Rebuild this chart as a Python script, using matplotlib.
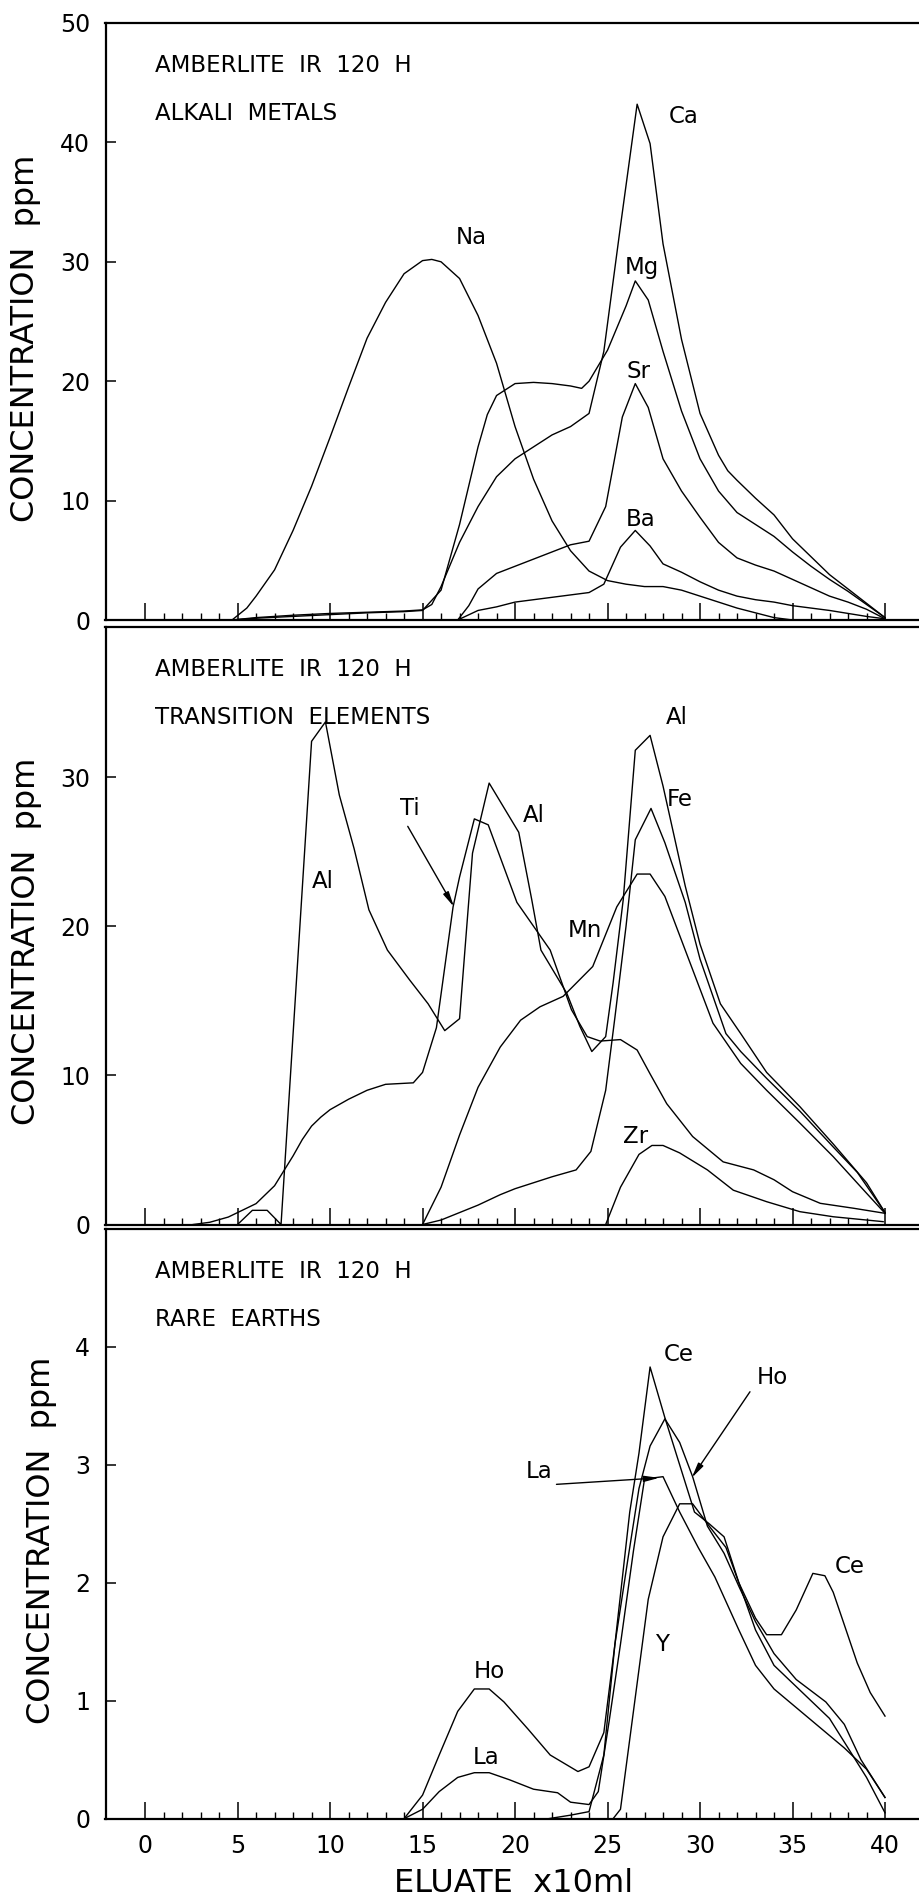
import numpy as np
import matplotlib
matplotlib.use("Agg")
import matplotlib.pyplot as plt

### 1. Data -------------------------------------------------------------------------------###

# Alkali metals (top panel)
na_x = [4.7, 5.5, 6, 7, 8, 9, 10, 11, 12, 13, 14, 15, 15.5, 16, 17, 18, 19, 20, 21, 22, 23, 24,
        25, 26, 27, 28, 29, 30, 31, 32, 33, 34, 35, 40]
na_y = [0, 1.0, 2.0, 4.2, 7.5, 11.2, 15.3, 19.5, 23.6, 26.6, 29.0, 30.1, 30.2, 30.0, 28.6, 25.5,
        21.5, 16.2, 11.8, 8.3, 5.8, 4.1, 3.3, 3.0, 2.8, 2.8, 2.5, 2.0, 1.5, 1.0, 0.6, 0.2, 0, 0]

mg_x = [4.7, 6, 8, 10, 12, 14, 15, 16, 17, 18, 18.5, 19, 20, 21, 22, 23, 23.6, 24, 25, 26, 26.5,
        27.2, 28, 29, 30, 31, 32, 33, 34, 35, 36, 37, 38, 39, 40]
mg_y = [0, 0.15, 0.3, 0.45, 0.6, 0.7, 0.8, 2.5, 8.0, 14.5, 17.2, 18.8, 19.8, 19.9, 19.8, 19.6,
        19.4, 20.0, 22.6, 26.3, 28.4, 26.8, 22.5, 17.5, 13.5, 10.8, 9.0, 8.0, 7.0, 5.7, 4.5, 3.4,
        2.4, 1.3, 0.2]

ca_x = [4.7, 6, 8, 10, 12, 14, 15, 15.5, 16, 17, 18, 19, 20, 21, 22, 23, 24, 24.8, 25.7, 26.6,
        27.3, 28, 29, 30, 31, 31.5, 32, 33, 34, 35, 36, 37, 38, 39, 40]
ca_y = [0, 0.2, 0.4, 0.55, 0.65, 0.75, 0.85, 1.3, 2.8, 6.5, 9.5, 12.0, 13.5, 14.5, 15.5, 16.2,
        17.3, 22.5, 33.0, 43.2, 39.9, 31.5, 23.5, 17.3, 13.8, 12.5, 11.7, 10.2, 8.8, 6.8, 5.3,
        3.8, 2.6, 1.4, 0.2]

sr_x = [16.9, 17.5, 18, 19, 20, 21, 22, 23, 24, 24.9, 25.8, 26.5, 27.2, 28, 29, 30, 31, 32, 33,
        34, 35, 36, 37, 38, 39, 40]
sr_y = [0, 1.2, 2.6, 3.9, 4.5, 5.1, 5.7, 6.3, 6.6, 9.5, 17.0, 19.8, 17.8, 13.5, 10.8, 8.6, 6.5,
        5.2, 4.6, 4.1, 3.4, 2.7, 2.0, 1.5, 0.9, 0.1]

ba_x = [16.9, 18, 19, 20, 21, 22, 23, 24, 24.8, 25.7, 26.5, 27.3, 28, 29, 30, 31, 32, 33, 34, 35,
        36, 37, 38, 39, 40]
ba_y = [0, 0.8, 1.1, 1.5, 1.7, 1.9, 2.1, 2.3, 3.0, 6.1, 7.5, 6.2, 4.7, 4.0, 3.2, 2.5, 2.0, 1.7,
        1.5, 1.2, 1.0, 0.8, 0.55, 0.3, 0.1]

# Transition elements (middle panel)
al_x = [5.0, 5.8, 6.6, 7.35, 9.0, 9.75, 10.5, 11.3, 12.1, 13.1, 14.3, 15.3, 16.2, 17.0, 17.7,
        18.6, 20.2, 20.9, 21.4, 22.8, 23.5, 24.15, 24.9, 25.3, 25.85, 26.5, 27.3, 28.0, 29.2,
        30.0, 31.1, 32.2, 33.6, 35.4, 37.2, 39.0, 40.0]
al_y = [0, 0.95, 0.95, 0, 32.4, 33.7, 28.8, 25.2, 21.1, 18.4, 16.4, 14.8, 13.0, 13.8, 24.9, 29.6,
        26.3, 21.8, 18.4, 15.5, 13.3, 11.6, 12.6, 16.2, 21.8, 31.8, 32.8, 29.4, 22.7, 18.8, 14.8,
        12.8, 10.2, 7.9, 5.4, 2.8, 0.8]

ti_x = [2.6, 3.5, 4.5, 5.0, 6.0, 7.0, 8.0, 8.5, 9.0, 9.5, 10, 11, 12, 13, 14.5, 15.0, 15.75,
        16.65, 17.0, 17.8, 18.55, 20.1, 21.9, 23.05, 23.9, 24.6, 25.7, 26.6, 27.3, 28.2, 29.6,
        31.25, 32.9, 34.0, 35.0, 36.5, 38.3, 40.0]
ti_y = [0, 0.15, 0.5, 0.8, 1.4, 2.6, 4.6, 5.7, 6.6, 7.2, 7.7, 8.4, 9.0, 9.4, 9.5, 10.2, 13.2, 21.3,
        23.3, 27.2, 26.8, 21.6, 18.4, 14.4, 12.6, 12.3, 12.4, 11.7, 10.1, 8.1, 5.9, 4.2, 3.66, 3.0,
        2.2, 1.42, 1.09, 0.75]

mn_x = [15.0, 16, 17, 18, 19.2, 20.3, 21.35, 22.6, 24.2, 25.5, 26.6, 27.3, 28.1, 29.2, 30.7,
        32.2, 33.6, 35.4, 37.2, 39.0, 40.0]
mn_y = [0, 2.5, 6.0, 9.2, 11.9, 13.7, 14.6, 15.3, 17.3, 21.3, 23.5, 23.5, 22.0, 18.4, 13.5, 10.8,
        9.0, 6.8, 4.55, 2.1, 0.75]

fe_x = [15.0, 16, 17, 18, 19.2, 20, 21, 22, 23.3, 24.1, 24.9, 25.4, 26.0, 26.5, 27.35, 28.1, 29.2,
        30.0, 31.4, 32.2, 33.6, 35.4, 37.2, 38.5, 40]
fe_y = [0, 0.3, 0.8, 1.3, 2.0, 2.4, 2.8, 3.2, 3.66, 4.9, 9.0, 13.9, 20.0, 25.8, 27.9, 25.6, 21.6,
        17.8, 12.8, 11.6, 9.8, 7.6, 5.2, 3.5, 0.8]

zr_x = [24.9, 25.7, 26.7, 27.4, 28.0, 28.9, 30.4, 31.8, 33.6, 35.4, 37.2, 39.9]
zr_y = [0, 2.5, 4.7, 5.3, 5.3, 4.8, 3.66, 2.3, 1.53, 0.86, 0.52, 0.19]

# Rare earths (bottom panel)
ho_x = [14.0, 15, 15.9, 16.9, 17.8, 18.6, 19.4, 20.7, 21.9, 23.4, 24.0, 24.8, 25.4, 26.1, 26.7,
        27.3, 28.1, 28.9, 29.6, 30.4, 31.3, 32.1, 33, 34, 35.2, 36.8, 37.8, 38.7, 40]
ho_y = [0, 0.2, 0.54, 0.91, 1.1, 1.1, 0.99, 0.76, 0.54, 0.40, 0.44, 0.73, 1.48, 2.2, 2.8, 3.16,
        3.39, 3.19, 2.9, 2.48, 2.25, 1.97, 1.67, 1.40, 1.18, 0.99, 0.8, 0.5, 0.18]

la_x = [14.0, 15, 15.9, 16.9, 17.8, 18.6, 19.7, 21, 22.3, 23, 24, 24.5, 25.1, 25.7, 26.4, 27.0,
        28.0, 28.9, 29.9, 30.8, 32.1, 33, 34, 35.9, 37.8, 39, 40]
la_y = [0, 0.08, 0.23, 0.35, 0.39, 0.39, 0.33, 0.25, 0.22, 0.14, 0.12, 0.23, 0.84, 1.48, 2.27,
        2.88, 2.9, 2.6, 2.3, 2.05, 1.6, 1.3, 1.1, 0.85, 0.6, 0.42, 0.18]

ce_x = [21.8, 23, 24, 24.8, 25.4, 26.2, 26.7, 27.3, 28.1, 28.9, 29.7, 30.5, 31.3, 32.1, 33.0, 33.6,
        34.4, 35.2, 36.1, 36.75, 37.2, 37.7, 38.5, 39.2, 40]
ce_y = [0, 0.03, 0.06, 0.54, 1.48, 2.6, 3.1, 3.83, 3.4, 3.0, 2.6, 2.5, 2.39, 2.0, 1.7, 1.56, 1.56,
        1.77, 2.08, 2.06, 1.92, 1.69, 1.32, 1.07, 0.87]

y_x = [25.3, 25.7, 26.4, 27.2, 28.0, 28.9, 29.6, 30.5, 31.4, 32.1, 33.0, 34.0, 35.0, 36.0, 37.0,
       38.0, 39.0, 40.0]
y_y = [0, 0.08, 0.91, 1.86, 2.39, 2.67, 2.67, 2.48, 2.3, 2.0, 1.6, 1.3, 1.15, 1.0, 0.85, 0.6,
       0.35, 0.05]

# tick values
x_ticks = [0, 5, 10, 15, 20, 25, 30, 35, 40]
top_yticks = [0, 10, 20, 30, 40, 50]
mid_yticks = [0, 10, 20, 30]
bot_yticks = [0, 1, 2, 3, 4]

### 2. Figure and panel layout -------------------------------------------------------------###
W, H = 919, 1897
fig = plt.figure(figsize=(W / 100, H / 100), dpi=100)
plt.rcParams['font.family'] = ['DejaVu Sans']

def px_axes(top, bottom):
    # panel box in pixels; right side runs off the page like the scan
    left, right = 105.5, 959
    return fig.add_axes([left / W, 1 - bottom / H, (right - left) / W, (bottom - top) / H])

ax1 = px_axes(23, 620)
ax2 = px_axes(626.5, 1224.5)
ax3 = px_axes(1229, 1818.7)

panels = [
    (ax1, 50, top_yticks, "ALKALI  METALS"),
    (ax2, 40.1, mid_yticks, "TRANSITION  ELEMENTS"),
    (ax3, 5.0, bot_yticks, "RARE  EARTHS"),
]

for ax, ytop, yt, subtitle in panels:
    ax.set_xlim(-2.14, 44)
    ax.set_ylim(0, ytop)
    for s in ["top", "left", "bottom"]:
        ax.spines[s].set_linewidth(1.6)
    ax.spines["right"].set_visible(False)
    ax.set_xticks(x_ticks)
    ax.set_xticks(np.arange(0, 41, 1), minor=True)
    ax.set_yticks(yt)
    ax.tick_params(axis="x", which="major", direction="in", length=12, width=1.1,
                   labelsize=17, pad=11)
    ax.tick_params(axis="x", which="minor", direction="in", length=5, width=1.0)
    ax.tick_params(axis="y", direction="in", length=7, width=1.1, labelsize=17, pad=11)
    if ax is not ax3:
        ax.tick_params(axis="x", labelbottom=False)
    ax.text(0.0579, 1 - 49 / (ax.bbox.height), "AMBERLITE  IR  120  H", transform=ax.transAxes,
            fontsize=16.5, va="baseline", ha="left")
    ax.text(0.0579, 1 - 97 / (ax.bbox.height), subtitle, transform=ax.transAxes,
            fontsize=16.5, va="baseline", ha="left")

lw = 1.0
# top panel curves
for xs, ys in [(na_x, na_y), (mg_x, mg_y), (ca_x, ca_y), (sr_x, sr_y), (ba_x, ba_y)]:
    ax1.plot(xs, ys, color="black", lw=lw)
# middle panel curves
for xs, ys in [(al_x, al_y), (ti_x, ti_y), (mn_x, mn_y), (fe_x, fe_y), (zr_x, zr_y)]:
    ax2.plot(xs, ys, color="black", lw=lw)
# bottom panel curves
for xs, ys in [(ho_x, ho_y), (la_x, la_y), (ce_x, ce_y), (y_x, y_y)]:
    ax3.plot(xs, ys, color="black", lw=lw)

### 3. Curve labels and arrows --------------------------------------------------------------###
lab_fs = 16.5
for ax, labels in [
    (ax1, [("Na", 17.65, 32.0), ("Ca", 29.1, 42.2), ("Mg", 26.85, 29.5), ("Sr", 26.7, 20.8),
           ("Ba", 26.8, 8.4)]),
    (ax2, [("Al", 9.6, 23.0), ("Ti", 14.3, 27.9), ("Al", 21.0, 27.4), ("Al", 28.75, 34.0),
           ("Fe", 28.9, 28.5), ("Mn", 23.8, 19.7), ("Zr", 26.5, 5.9)]),
    (ax3, [("Ce", 28.84, 3.94), ("Ho", 33.9, 3.74), ("La", 21.3, 2.94), ("Ce", 38.1, 2.14),
           ("Y", 27.96, 1.48), ("Ho", 18.6, 1.25), ("La", 18.45, 0.52)]),
]:
    for t, x, y in labels:
        ax.text(x, y, t, fontsize=lab_fs, ha="center", va="center")

arrow = dict(arrowstyle="-|>,head_length=0.9,head_width=0.18", color="black", lw=1.0,
             shrinkA=0, shrinkB=0)
ax2.annotate("", xy=(16.7, 21.3), xytext=(14.2, 26.7), arrowprops=arrow)
ax3.annotate("", xy=(27.8, 2.89), xytext=(22.24, 2.835), arrowprops=arrow)
ax3.annotate("", xy=(29.55, 2.89), xytext=(32.7, 3.62), arrowprops=arrow)

### 4. Axis titles --------------------------------------------------------------------------###
for xc, yc in [(26, 338), (27, 941), (42, 1540)]:
    fig.text(xc / W, 1 - yc / H, "CONCENTRATION  ppm", rotation=90, fontsize=23,
             ha="center", va="center")
fig.text(514 / W, 1 - 1891.5 / H, "ELUATE  x10ml", fontsize=23, ha="center", va="baseline")

fig.savefig("out.png", dpi=100)
